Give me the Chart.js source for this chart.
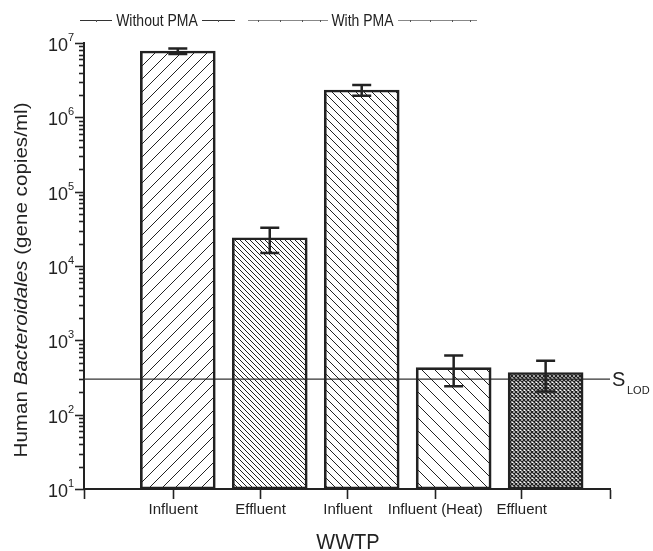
<!DOCTYPE html>
<html>
<head>
<meta charset="utf-8">
<script src="https://cdn.jsdelivr.net/npm/chart.js@4.4.1/dist/chart.umd.min.js"></script>
<style>
  body { margin: 0; background: #fff; }
  #wrap { width: 653px; height: 551px; }
</style>
</head>
<body>
<div id="wrap"><canvas id="chart"></canvas></div>
<script>
// data
const categories = ['Influent', 'Effluent', 'Influent', 'Influent (Heat)', 'Effluent'];
const groups = ['Without PMA', 'With PMA'];
const barX = [1, 2, 3, 4, 5];
const tickX = [0.95, 1.9, 2.85, 3.8, 4.74];
const copies = [7.8e6, 2.4e4, 2.33e6, 430, 369];
const errLow = [7.1e6, 1.5e4, 1.95e6, 242, 205];
const errHigh = [8.46e6, 3.28e4, 2.72e6, 625, 530];
const sLod = 300;
const yMin = 10, yMax = 1e7;
const xMin = -0.02, xMax = 5.70;

const ink = '#222';
const FONT = '"Liberation Sans", Arial, sans-serif';
Chart.defaults.font.family = FONT;

// hatch fills like the original plot
function hatch(step, dir, lw, cross) {
  const c = document.createElement('canvas');
  c.width = step; c.height = step;
  const g = c.getContext('2d');
  g.strokeStyle = ink;
  g.lineWidth = lw;
  g.beginPath();
  for (let k = -1; k <= 1; k++) {
    if (dir === '/' || cross) { g.moveTo(k * step, step); g.lineTo(k * step + step, 0); }
    if (dir === '\\' || cross) { g.moveTo(k * step, 0); g.lineTo(k * step + step, step); }
  }
  g.stroke();
  return g.createPattern(c, 'repeat');
}
const fills = [
  hatch(13, '/', 1),
  hatch(5, '\\', 1),
  hatch(8, '\\', 1),
  hatch(13, '\\', 1),
  hatch(4, 'x', 1.3, true)
];

// text stretched a bit taller, like the exported figure
function tallText(ctx, txt, x, y, size, sy) {
  ctx.save();
  ctx.translate(x, y);
  ctx.scale(1, sy);
  ctx.font = size + 'px ' + FONT;
  ctx.fillText(txt, 0, 0);
  ctx.restore();
}

const decor = {
  id: 'decor',
  afterDatasetsDraw(chart) {
    const ctx = chart.ctx;
    const xs = chart.scales.x, ys = chart.scales.y;
    // error bars
    ctx.save();
    ctx.strokeStyle = ink;
    ctx.lineWidth = 2.5;
    barX.forEach((v, i) => {
      const x = xs.getPixelForValue(v);
      const t = ys.getPixelForValue(errHigh[i]);
      const b = ys.getPixelForValue(errLow[i]);
      ctx.beginPath();
      ctx.moveTo(x, t); ctx.lineTo(x, b);
      ctx.moveTo(x - 9.5, t); ctx.lineTo(x + 9.5, t);
      ctx.moveTo(x - 9.5, b); ctx.lineTo(x + 9.5, b);
      ctx.stroke();
    });
    ctx.restore();
  },
  afterDraw(chart) {
    const ctx = chart.ctx;
    const ys = chart.scales.y;
    const left = chart.chartArea.left;
    ctx.save();
    ctx.strokeStyle = ink;
    ctx.fillStyle = ink;
    // y ticks, long for decades, short for 2..9
    ctx.lineWidth = 1.6;
    for (let e = 1; e <= 7; e++) {
      for (let m = 1; m <= (e === 7 ? 1 : 9); m++) {
        const v = m * Math.pow(10, e);
        const y = Math.round(ys.getPixelForValue(v)) + 0.5;
        const major = m === 1;
        ctx.beginPath();
        ctx.moveTo(left - (major ? 9 : 5), y);
        ctx.lineTo(left, y);
        ctx.stroke();
        if (major) {
          ctx.textBaseline = 'alphabetic';
          ctx.textAlign = 'right';
          ctx.font = '18px ' + FONT;
          ctx.fillText('10', left - 16, y + 7);
          ctx.font = '11px ' + FONT;
          ctx.textAlign = 'left';
          ctx.fillText(String(e), left - 16, y - 3);
        }
      }
    }

    // y title with italic genus name
    ctx.save();
    ctx.translate(27, 280);
    ctx.rotate(-Math.PI / 2);
    const parts = [['Human ', ''], ['Bacteroidales', 'italic '], [' (gene copies/ml)', '']];
    let total = 0;
    parts.forEach(p => { ctx.font = p[1] + '18px ' + FONT; total += ctx.measureText(p[0]).width; });
    const sx = 355 / total;
    ctx.scale(sx, 1);
    let px = -total / 2;
    ctx.textAlign = 'left';
    parts.forEach(p => {
      ctx.font = p[1] + '18px ' + FONT;
      ctx.fillText(p[0], px, 0);
      px += ctx.measureText(p[0]).width;
    });
    ctx.restore();

    // x title
    ctx.textAlign = 'center';
    tallText(ctx, 'WWTP', 348, 549, 20, 1.1);

    // group brackets at the top
    tallText(ctx, groups[0], 157, 26, 14, 1.15);
    tallText(ctx, groups[1], 362.5, 26, 14, 1.15);
    ctx.lineWidth = 1;
    ctx.strokeStyle = '#333';
    ctx.beginPath();
    ctx.moveTo(80, 20.5); ctx.lineTo(112, 20.5);
    ctx.moveTo(202, 20.5); ctx.lineTo(235, 20.5);
    ctx.stroke();
    ctx.strokeStyle = '#888';
    ctx.beginPath();
    ctx.moveTo(248, 20.5); ctx.lineTo(328, 20.5);
    ctx.moveTo(398, 20.5); ctx.lineTo(477, 20.5);
    ctx.stroke();
    ctx.fillStyle = '#555';
    [258, 280, 302, 320, 410, 430, 452, 470].forEach(x => ctx.fillRect(x, 20, 1, 2));
    [96, 218].forEach(x => ctx.fillRect(x, 20, 1, 2));

    // S_LOD label
    ctx.fillStyle = ink;
    const yl = ys.getPixelForValue(sLod);
    ctx.textAlign = 'left';
    tallText(ctx, 'S', 612, yl + 7, 20, 1.05);
    ctx.font = '11px ' + FONT;
    ctx.fillText('LOD', 627, yl + 15);
    ctx.restore();
  }
};

new Chart(document.getElementById('chart'), {
  type: 'bar',
  data: {
    datasets: [
      {
        type: 'bar',
        data: barX.map((x, i) => ({ x: x, y: copies[i] })),
        backgroundColor: fills,
        borderColor: ink,
        borderWidth: 2,
        borderSkipped: false,
        barThickness: 75
      },
      {
        type: 'line',
        data: [{ x: xMin, y: sLod }, { x: xMax, y: sLod }],
        borderColor: '#333',
        borderWidth: 1.3,
        pointRadius: 0
      }
    ]
  },
  options: {
    responsive: true,
    maintainAspectRatio: false,
    animation: false,
    layout: { padding: { left: 0, right: 43, top: 43, bottom: 0 } },
    plugins: { legend: { display: false }, tooltip: { enabled: false } },
    scales: {
      x: {
        type: 'linear',
        offset: false,
        min: xMin,
        max: xMax,
        afterBuildTicks: s => { s.ticks = [xMin, ...tickX, xMax].map(v => ({ value: v })); },
        afterFit: s => { s.height = 62; },
        ticks: {
          autoSkip: false,
          maxRotation: 0,
          padding: 2,
          color: ink,
          font: { size: 15 },
          callback: (v, i) => (i >= 1 && i <= categories.length) ? categories[i - 1] : ''
        },
        grid: { drawOnChartArea: false, offset: false, tickLength: 10, tickColor: ink, tickWidth: 1.6 },
        border: { color: ink, width: 2 }
      },
      y: {
        type: 'logarithmic',
        position: 'left',
        min: yMin,
        max: yMax,
        afterFit: s => { s.width = 84; },
        ticks: { display: false },
        grid: { display: false },
        border: { color: ink, width: 2 }
      }
    }
  },
  plugins: [decor]
});
</script>
</body>
</html>
